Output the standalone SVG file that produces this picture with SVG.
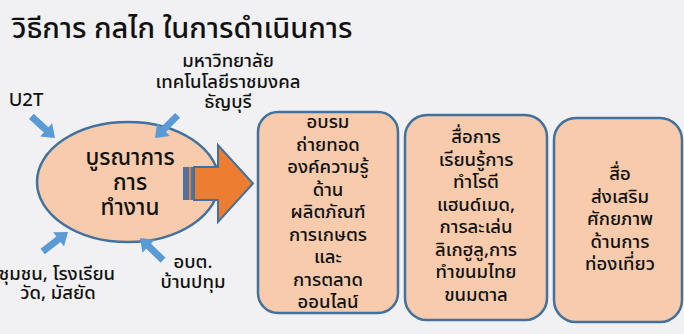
<svg xmlns="http://www.w3.org/2000/svg" width="684" height="334" viewBox="0 0 684 334">
<style>
text{font-family:"Noto Sans Thai","Noto Sans","Liberation Sans",sans-serif;fill:#111;text-anchor:middle;font-weight:500}
.t{font-size:29px;text-anchor:start}
.lb{font-size:18.5px}
.bx{font-size:18.5px}
.el{font-size:22.5px}
.node{fill:#f8cbad;stroke:#41719c;stroke-width:2.5}
.sa{fill:#5b9bd5}
</style>
<defs>
<polygon id="sa" points="-32,-3.5 -12,-3.5 -12,-9 0,0 -12,9 -12,3.5 -32,3.5"/>
</defs>
<rect width="684" height="334" fill="#f1f1f3"/>
<text class="t" x="12" y="38">วิธีการ กลไก ในการดำเนินการ</text>

<g id="labels">
<text class="lb" x="26" y="106">U2T</text>
<text class="lb" x="228" y="67">มหาวิทยาลัย</text>
<text class="lb" x="228" y="88">เทคโนโลยีราชมงคล</text>
<text class="lb" x="228" y="108">ธัญบุรี</text>
<text class="lb" x="57" y="280">ชุมชน, โรงเรียน</text>
<text class="lb" x="58" y="299">วัด, มัสยัด</text>
<text class="lb" x="193" y="268">อบต.</text>
<text class="lb" x="193" y="288">บ้านปทุม</text>
</g>

<g id="hub">
<ellipse class="node" cx="128" cy="182" rx="91" ry="60"/>
<text class="el" x="130" y="165">บูรณาการ</text>
<text class="el" x="130" y="190">การ</text>
<text class="el" x="130" y="215">ทำงาน</text>
</g>

<g id="connectors">
<use href="#sa" class="sa" transform="translate(55,138) rotate(42.3)"/>
<use href="#sa" class="sa" transform="translate(155,138) rotate(135)"/>
<use href="#sa" class="sa" transform="translate(68,232) rotate(-37.6)"/>
<use href="#sa" class="sa" transform="translate(140,238) rotate(-136.2)"/>
<rect x="183" y="167" width="6" height="33" fill="#4a74a4"/>
<rect x="189" y="167" width="2" height="33" fill="#ed7d31"/>
<rect x="191" y="167" width="2.5" height="33" fill="#4a74a4"/>
<polygon points="194,167 218,167 218,145 253,183.5 218,222 218,200 194,200" fill="#ed7d31" stroke="#41719c" stroke-width="2"/>
</g>

<g id="box1">
<rect class="node" x="258" y="112" width="140" height="201" rx="20"/>
<text class="bx" x="328" y="128">อบรม</text>
<text class="bx" x="328" y="150.5">ถ่ายทอด</text>
<text class="bx" x="328" y="173">องค์ความรู้</text>
<text class="bx" x="328" y="195.5">ด้าน</text>
<text class="bx" x="328" y="218">ผลิตภัณฑ์</text>
<text class="bx" x="328" y="240.5">การเกษตร</text>
<text class="bx" x="328" y="263">และ</text>
<text class="bx" x="328" y="285.5">การตลาด</text>
<text class="bx" x="328" y="308">ออนไลน์</text>
</g>

<g id="box2">
<rect class="node" x="405" y="115" width="142" height="205" rx="22"/>
<text class="bx" x="476" y="143">สื่อการ</text>
<text class="bx" x="476" y="165.5">เรียนรู้การ</text>
<text class="bx" x="476" y="188">ทำโรตี</text>
<text class="bx" x="476" y="210.5">แฮนด์เมด,</text>
<text class="bx" x="476" y="233">การละเล่น</text>
<text class="bx" x="476" y="255.5">ลิเกฮูลู,การ</text>
<text class="bx" x="476" y="278">ทำขนมไทย</text>
<text class="bx" x="476" y="300.5">ขนมตาล</text>
</g>

<g id="box3">
<rect class="node" x="554" y="118" width="128" height="204" rx="22"/>
<text class="bx" x="620" y="180">สื่อ</text>
<text class="bx" x="620" y="203">ส่งเสริม</text>
<text class="bx" x="620" y="225">ศักยภาพ</text>
<text class="bx" x="620" y="248">ด้านการ</text>
<text class="bx" x="620" y="270">ท่องเที่ยว</text>
</g>
</svg>
